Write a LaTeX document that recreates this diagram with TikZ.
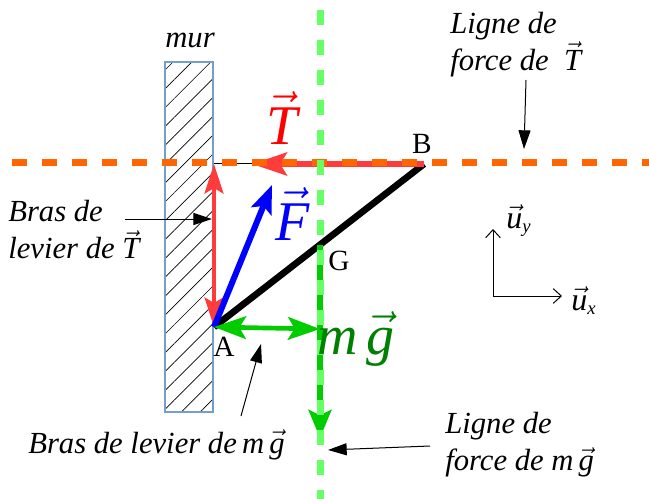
\documentclass[tikz,border=0pt]{standalone}
\usepackage{fix-cm}
\usepackage{fontspec}
\setmainfont{Liberation Serif}
\usetikzlibrary{arrows.meta,patterns.meta}

\definecolor{orangeligne}{RGB}{255,102,0}
\definecolor{vertclair}{RGB}{102,255,102}
\definecolor{vertforce}{RGB}{0,204,0}
\definecolor{vertlabel}{RGB}{0,128,0}
\definecolor{rougeforce}{RGB}{255,60,60}
\definecolor{bordmur}{RGB}{114,159,207}

\newcommand{\vect}[1]{$\vec{\textit{#1}}$}
\newcommand{\indice}[1]{\mbox{\fontsize{14}{16}\selectfont\itshape #1}}

\begin{document}
\begin{tikzpicture}[x=0.75pt, y=-0.75pt,
    texte/.style={font=\fontsize{23}{27.75}\selectfont\itshape, align=left, inner sep=0pt},
    point/.style={font=\fontsize{22}{26}\selectfont, inner sep=0pt},
    grand/.style={font=\fontsize{42}{50}\selectfont, inner sep=0pt},
    paroi/.style={draw=bordmur, line width=0.8pt, inner sep=0pt,
        minimum width=36pt, minimum height=262.5pt,
        pattern={Lines[angle=45, distance=10pt, line width=0.5pt]}},
    barre/.style={line width=5pt},
    renvoi/.style={-{Triangle[length=14pt, width=9pt]}, line width=0.75pt},
    repere/.style={-{Straight Barb[length=6pt, width=11pt]}, line width=0.75pt},
    ligneT/.style={orangeligne, line width=5.25pt, dash pattern=on 11.25pt off 11.25pt},
    ligneg/.style={vertclair, line width=5.25pt, dash pattern=on 11.25pt off 11.25pt},
    forceT/.style={rougeforce, line width=5pt, -{Stealth[length=26pt, width=17pt, inset=5pt]}},
    brasT/.style={rougeforce, line width=3.5pt,
        {Stealth[length=22pt, width=14pt, inset=4pt]}-{Stealth[length=22pt, width=14pt, inset=4pt]}},
    forceF/.style={blue, line width=4.5pt, -{Stealth[length=21pt, width=16pt, inset=4pt]}},
    forceg/.style={vertforce, line width=4.5pt, -{Stealth[length=21pt, width=17pt, inset=4pt]}},
    brasg/.style={vertforce, line width=3.5pt,
        {Stealth[length=24pt, width=17pt, inset=5pt]}-{Stealth[length=24pt, width=17pt, inset=5pt]}}
]
    \useasboundingbox (0,0) rectangle (649,499);

    % points
    \coordinate (A) at (214,327);
    \coordinate (B) at (424,164);
    \coordinate (G) at (320,245);
    \coordinate (H) at (214,164);
    \coordinate (P) at (320,329);
    \coordinate (finT) at (252,164);
    \coordinate (finF) at (272,185);
    \coordinate (fing) at (320,438);
    \coordinate (O) at (493,296);
    \coordinate (uy) at (493,229);
    \coordinate (ux) at (562,296);

    % mur
    \node[paroi] (mur) at (189,237) {};
    \node[texte, anchor=base] (nommur) at (190,48) {mur};

    % barre AB et fil
    \draw[line width=0.75pt] (H) -- (B);
    \draw[barre] (A) -- (B);

    % forces
    \draw[forceT] (B) -- (finT);
    \draw[brasT] (A) -- (H);
    \draw[forceF] (A) -- (finF);
    \draw[forceg] (G) -- (fing);
    \draw[brasg] (A) -- (P);

    % lignes de force
    \coordinate (oT1) at (12,163);
    \coordinate (oT2) at (649,163);
    \coordinate (og1) at (320,10);
    \coordinate (og2) at (320,499);
    \draw[ligneT] (oT1) -- (oT2);
    \draw[ligneg] (og1) -- (og2);

    % noms des points
    \node[point, anchor=base] (nomA) at (224,356) {A};
    \node[point, anchor=base] (nomB) at (422,153) {B};
    \node[point, anchor=base] (nomG) at (339,270) {G};

    % noms des forces
    \node[grand, red] (nomT) at (282,118) {\vect{T}};
    \node[grand, blue] (nomF) at (293,214) {\vect{F}};
    \node[grand, vertlabel] (nomg) at (356,339) {\textit{m}\,\vect{g}};

    % textes et renvois
    \node[texte, anchor=west] (txtbrasT) at (8,230) {Bras de\\levier de \vect{T}};
    \node[texte, anchor=west] (txtligneT) at (450,45) {Ligne de\\force de\enspace\vect{T}};
    \node[texte, anchor=base west] (txtbrasg) at (28,453) {Bras de levier de\,\textit{m}\,\vect{g}};
    \node[texte, anchor=west] (txtligneg) at (445,445) {Ligne de\\force de \textit{m}\,\vect{g}};

    \coordinate (r1) at (125,219);
    \coordinate (r1b) at (212,219);
    \coordinate (r2) at (526,80);
    \coordinate (r2b) at (524,149);
    \coordinate (r3) at (241,416);
    \coordinate (r3b) at (261,344);
    \coordinate (r4) at (430,446);
    \coordinate (r4b) at (328,450);
    \draw[renvoi] (r1) -- (r1b);
    \draw[renvoi] (r2) -- (r2b);
    \draw[renvoi] (r3) -- (r3b);
    \draw[renvoi] (r4) -- (r4b);

    % repere
    \draw[repere] (O) -- (uy);
    \draw[repere] (O) -- (ux);
    \node[texte, anchor=base west, font=\fontsize{24}{30}\selectfont] (nomuy) at (506,228)
        {$\vec{\textit{u}}_{\indice{y}}$};
    \node[texte, anchor=base west, font=\fontsize{24}{30}\selectfont] (nomux) at (571,310)
        {$\vec{\textit{u}}_{\indice{x}}$};
\end{tikzpicture}
\end{document}
